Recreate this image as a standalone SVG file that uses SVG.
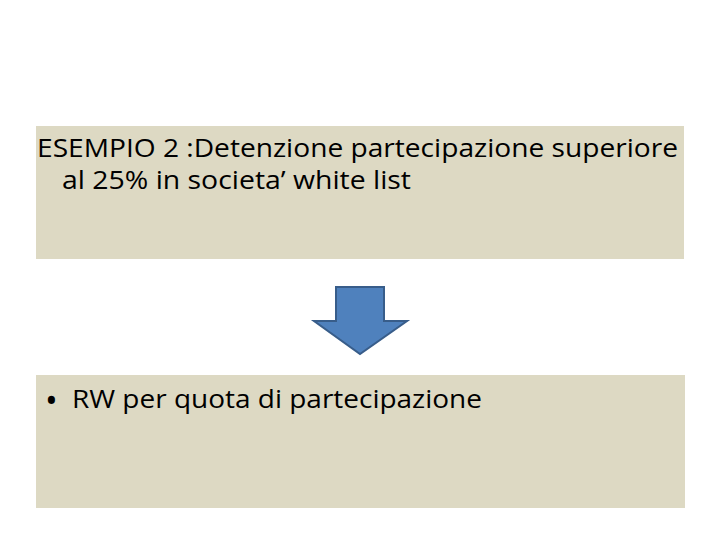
<svg xmlns="http://www.w3.org/2000/svg" width="720" height="540" viewBox="0 0 720 540">
<style>
.box{fill:#DDD9C3;stroke:none}
.t{font-family:"Open Sans","Liberation Sans",sans-serif;font-size:25px;fill:#000}
.arrow{fill:#4F81BD;stroke:#385D8A;stroke-width:2;stroke-linejoin:miter}
</style>
<rect width="720" height="540" fill="#fff"/>
<g id="node-top">
<rect class="box" x="36" y="126" width="648" height="133"/>
<text class="t" x="37" y="157" textLength="641" lengthAdjust="spacingAndGlyphs">ESEMPIO 2 :Detenzione partecipazione superiore</text>
<text class="t" x="62" y="189" textLength="349" lengthAdjust="spacingAndGlyphs">al 25% in societa’ white list</text>
</g>
<g id="connectors">
<path class="arrow" d="M336,287 L384,287 L384,321 L407,321 L360,354 L314,321 L336,321 Z"/>
</g>
<g id="node-bottom">
<rect class="box" x="36" y="375" width="649" height="133"/>
<text class="t" x="45" y="413" style="font-size:34px">•</text>
<text class="t" x="72" y="408" textLength="410" lengthAdjust="spacingAndGlyphs">RW per quota di partecipazione</text>
</g>
</svg>
